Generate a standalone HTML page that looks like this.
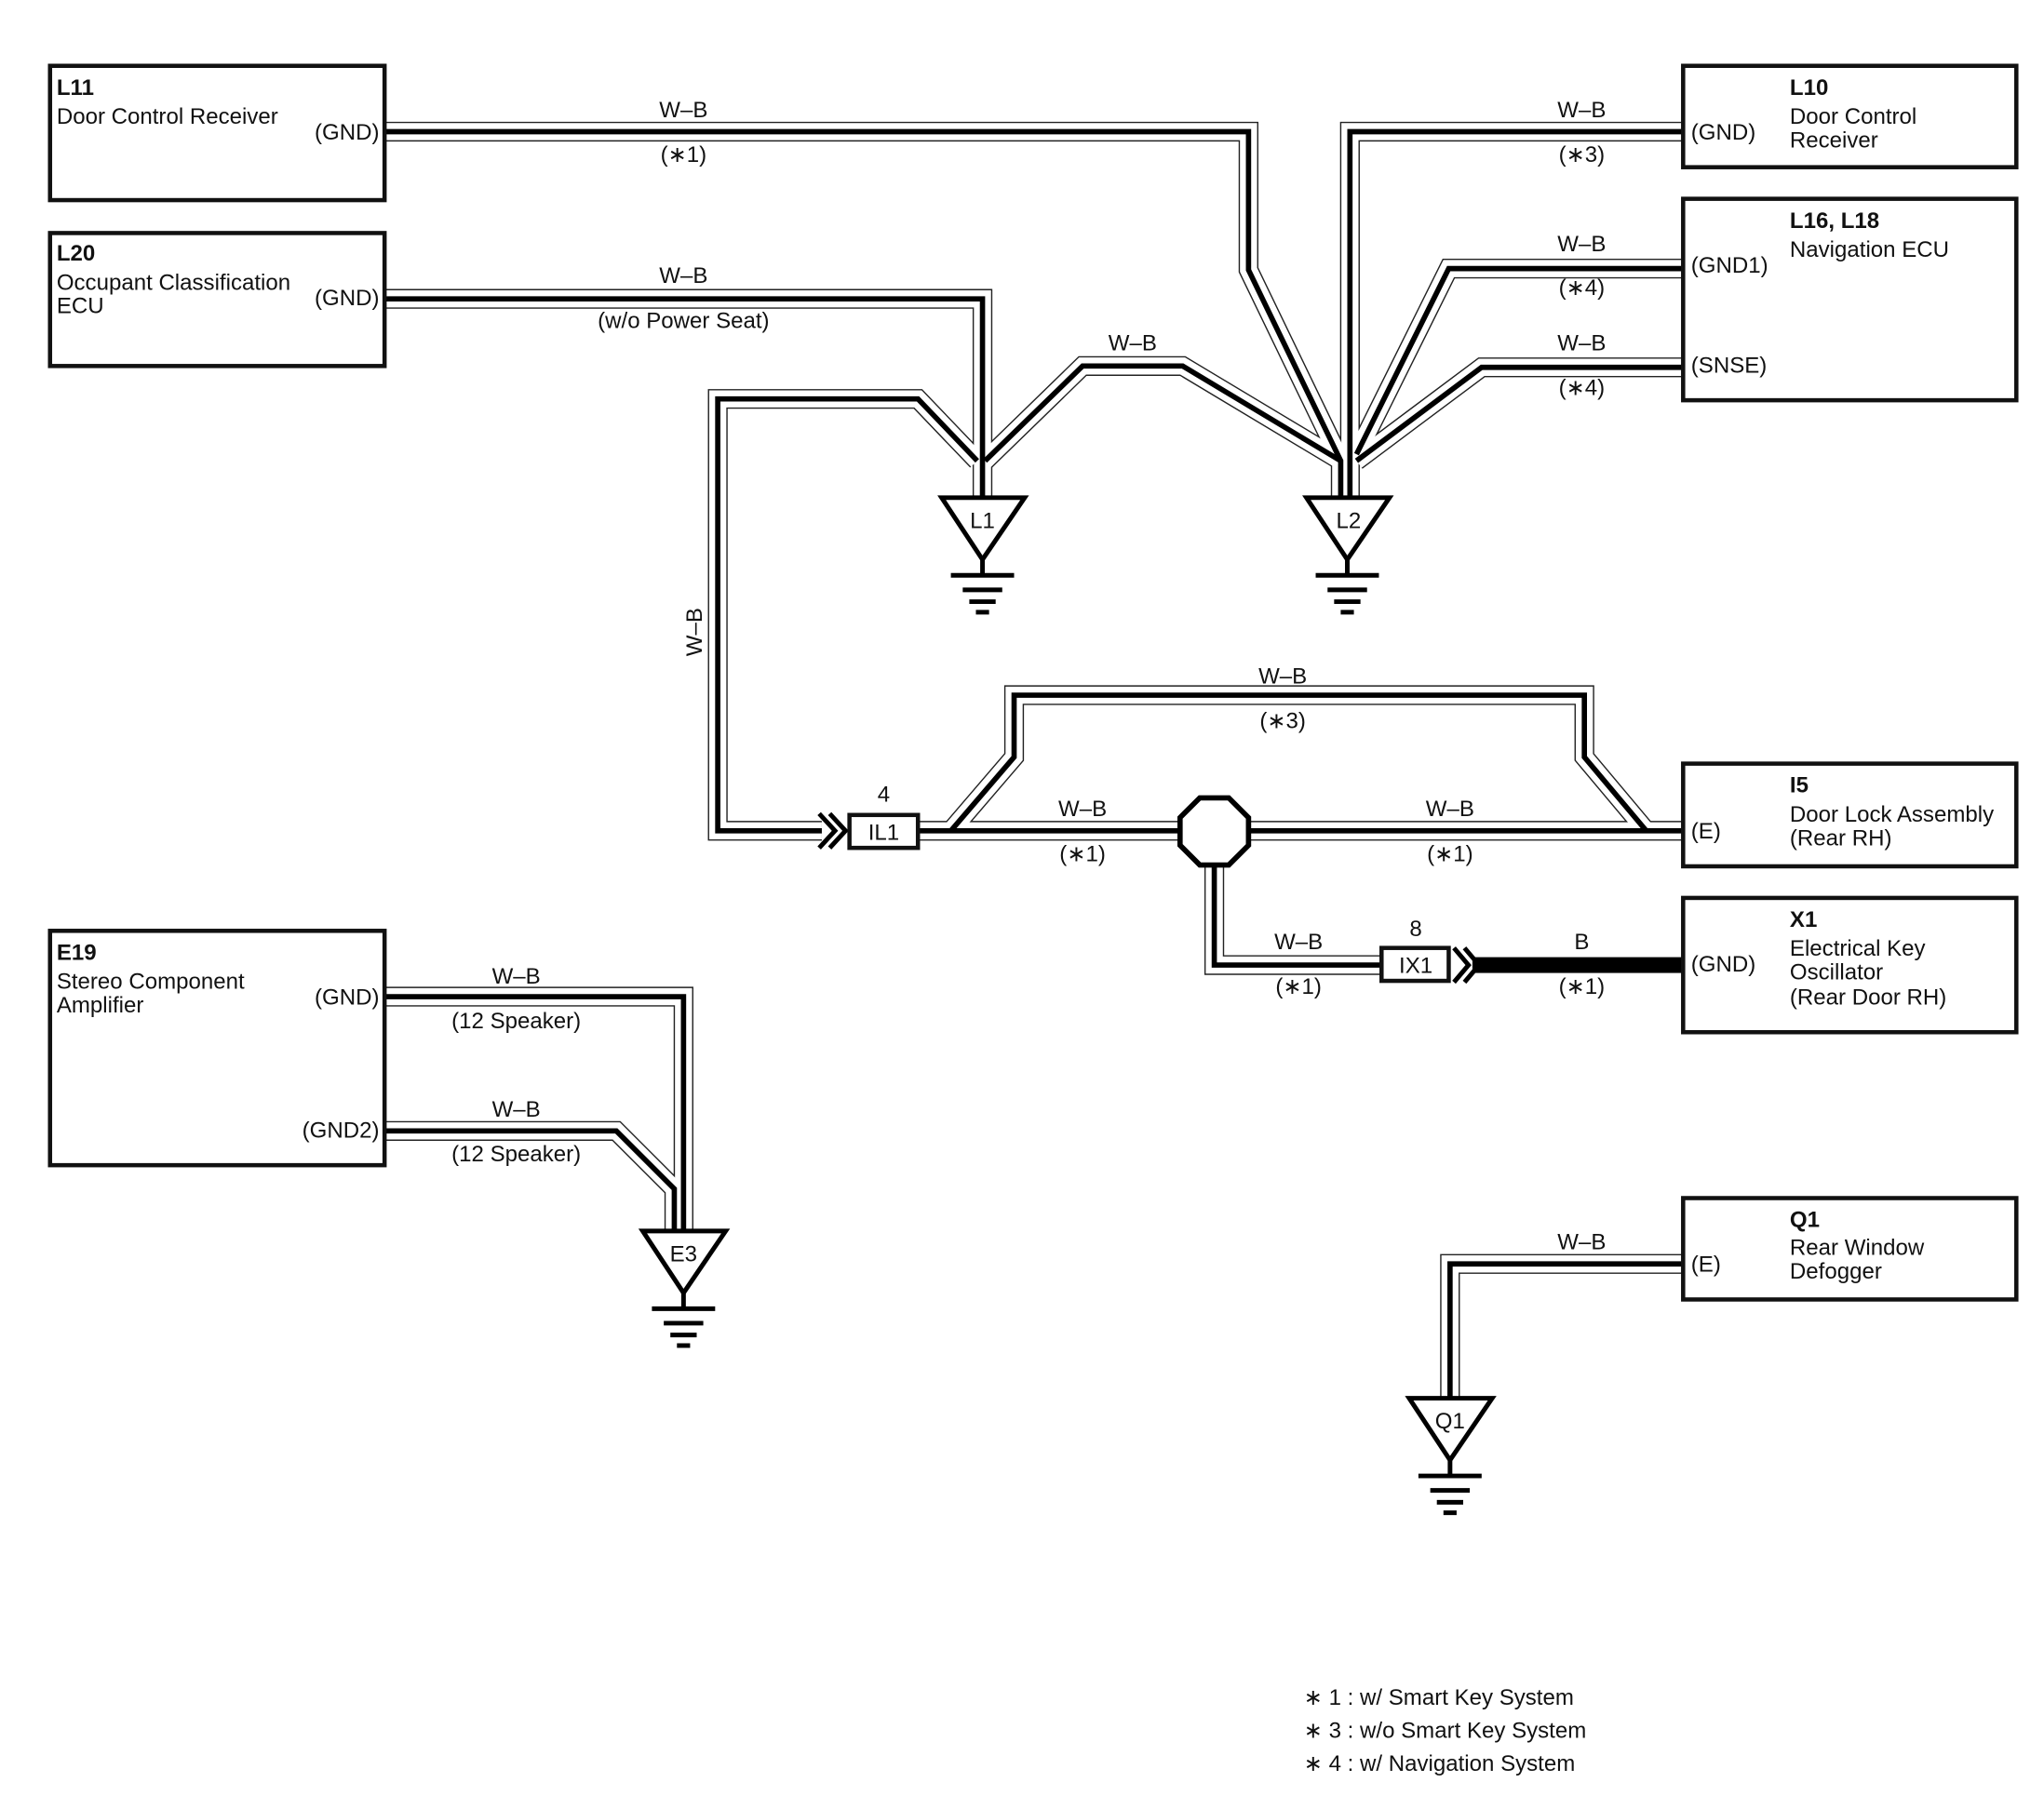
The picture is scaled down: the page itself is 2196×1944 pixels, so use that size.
<!DOCTYPE html>
<html><head><meta charset="utf-8"><style>
html,body{margin:0;padding:0;background:#fff;}
svg{display:block;}
text{font-family:"Liberation Sans",sans-serif;font-size:17px;fill:#111;}
.b{font-weight:bold;}
.m{text-anchor:middle;}
.e{text-anchor:end;}
.w1{fill:none;stroke:#222;stroke-width:15;stroke-linejoin:miter;}
.w2{fill:none;stroke:#fff;stroke-width:13;stroke-linejoin:miter;}
.w3{fill:none;stroke:#000;stroke-width:4;stroke-linejoin:miter;}
.box{fill:#fff;stroke:#111;stroke-width:3.2;}
.tri{fill:#fff;stroke:#000;stroke-width:3.5;stroke-linejoin:miter;}
.g{stroke:#000;stroke-width:3.5;}
</style></head><body>
<svg width="2196" height="1944" viewBox="0 0 1552 1374" preserveAspectRatio="none" xmlns="http://www.w3.org/2000/svg">
<defs>
<g id="wires">
<path d="M292,100 H948 V205 L1018,350 V378"/>
<path d="M1278,100 H1025 V378"/>
<path d="M1278,204 H1100 L1030,345"/>
<path d="M1278,279 H1125 L1030,350"/>
<path d="M748,350 L822,278 H898 L1018,350"/>
<path d="M292,227 H746 V378"/>
<path d="M742,350 L697,303 H545 V631 H624"/>
<path d="M697,631 H1278"/>
<path d="M722,631 L770,575 V528 H1203 V575 L1250,631"/>
<path d="M922,657 V733 H1049"/>
<path d="M292,757 H519 V935"/>
<path d="M292,859 H468 L512,903 V935"/>
<path d="M1278,960 H1101 V1062"/>
</g>
</defs>
<use href="#wires" class="w1"/>
<use href="#wires" class="w2"/>
<use href="#wires" class="w3"/>

<!-- thick B wire -->
<rect x="1118" y="727" width="160" height="12" fill="#000"/>
<path d="M1104,720 L1115,733 L1104,746 M1112,720 L1123,733 L1112,746" stroke="#000" stroke-width="3.5" fill="none"/>
<!-- IL1 arrows -->
<path d="M622,618 L634,631 L622,644 M630,618 L642,631 L630,644" stroke="#000" stroke-width="3.5" fill="none"/>

<!-- connectors -->
<rect x="645" y="619" width="52" height="25" class="box" stroke-width="3"/>
<text x="671" y="638" class="m">IL1</text>
<text x="671" y="609" class="m">4</text>
<rect x="1049" y="720" width="51" height="25" class="box" stroke-width="3"/>
<text x="1075" y="739" class="m">IX1</text>
<text x="1075" y="711" class="m">8</text>
<!-- splice -->
<polygon points="911,606 933,606 948,621 948,642 933,657 911,657 896,642 896,621" fill="#fff" stroke="#000" stroke-width="4"/>

<!-- boxes -->
<rect x="38" y="50" width="254" height="102" class="box"/>
<rect x="38" y="177" width="254" height="101" class="box"/>
<rect x="1278" y="50" width="253" height="77" class="box"/>
<rect x="1278" y="151" width="253" height="153" class="box"/>
<rect x="1278" y="580" width="253" height="78" class="box"/>
<rect x="1278" y="682" width="253" height="102" class="box"/>
<rect x="38" y="707" width="254" height="178" class="box"/>
<rect x="1278" y="910" width="253" height="77" class="box"/>

<!-- grounds -->
<g id="gnd1">
<polygon points="715,378 778,378 746,425" class="tri"/>
<line x1="746" y1="425" x2="746" y2="437" class="g"/>
<line x1="722" y1="437" x2="770" y2="437" class="g"/>
<line x1="731" y1="448" x2="761" y2="448" class="g"/>
<line x1="736" y1="457" x2="756" y2="457" class="g"/>
<line x1="741" y1="465" x2="751" y2="465" class="g"/>
</g>
<text x="746" y="401" class="m">L1</text>
<use href="#gnd1" transform="translate(277,0)"/>
<text x="1024" y="401" class="m">L2</text>
<use href="#gnd1" transform="translate(-227,557)"/>
<text x="519" y="958" class="m">E3</text>
<use href="#gnd1" transform="translate(355,684)"/>
<text x="1101" y="1085" class="m">Q1</text>

<!-- box texts -->
<text x="43" y="72" class="b">L11</text>
<text x="43" y="94">Door Control Receiver</text>
<text x="288" y="106" class="e">(GND)</text>
<text x="43" y="198" class="b">L20</text>
<text x="43" y="220">Occupant Classification</text>
<text x="43" y="238">ECU</text>
<text x="288" y="232" class="e">(GND)</text>
<text x="1359" y="72" class="b">L10</text>
<text x="1359" y="94">Door Control</text>
<text x="1359" y="112">Receiver</text>
<text x="1284" y="106">(GND)</text>
<text x="1359" y="173" class="b">L16, L18</text>
<text x="1359" y="195">Navigation ECU</text>
<text x="1284" y="207">(GND1)</text>
<text x="1284" y="283">(SNSE)</text>
<text x="1359" y="602" class="b">I5</text>
<text x="1359" y="624">Door Lock Assembly</text>
<text x="1359" y="642">(Rear RH)</text>
<text x="1284" y="637">(E)</text>
<text x="1359" y="704" class="b">X1</text>
<text x="1359" y="726">Electrical Key</text>
<text x="1359" y="744">Oscillator</text>
<text x="1359" y="763">(Rear Door RH)</text>
<text x="1284" y="738">(GND)</text>
<text x="43" y="729" class="b">E19</text>
<text x="43" y="751">Stereo Component</text>
<text x="43" y="769">Amplifier</text>
<text x="288" y="763" class="e">(GND)</text>
<text x="288" y="864" class="e">(GND2)</text>
<text x="1359" y="932" class="b">Q1</text>
<text x="1359" y="953">Rear Window</text>
<text x="1359" y="971">Defogger</text>
<text x="1284" y="966">(E)</text>

<!-- wire labels -->
<text x="519" y="89" class="m">W–B</text><text x="519" y="123" class="m">(∗1)</text>
<text x="519" y="215" class="m">W–B</text><text x="519" y="249" class="m">(w/o Power Seat)</text>
<text x="860" y="266" class="m">W–B</text>
<text x="1201" y="89" class="m">W–B</text><text x="1201" y="123" class="m">(∗3)</text>
<text x="1201" y="191" class="m">W–B</text><text x="1201" y="224" class="m">(∗4)</text>
<text x="1201" y="266" class="m">W–B</text><text x="1201" y="300" class="m">(∗4)</text>
<text x="974" y="519" class="m">W–B</text><text x="974" y="553" class="m">(∗3)</text>
<text x="822" y="620" class="m">W–B</text><text x="822" y="654" class="m">(∗1)</text>
<text x="1101" y="620" class="m">W–B</text><text x="1101" y="654" class="m">(∗1)</text>
<text x="986" y="721" class="m">W–B</text><text x="986" y="755" class="m">(∗1)</text>
<text x="1201" y="721" class="m">B</text><text x="1201" y="755" class="m">(∗1)</text>
<text x="392" y="747" class="m">W–B</text><text x="392" y="781" class="m">(12 Speaker)</text>
<text x="392" y="848" class="m">W–B</text><text x="392" y="882" class="m">(12 Speaker)</text>
<text x="1201" y="949" class="m">W–B</text>
<text x="533" y="480" class="m" transform="rotate(-90 533 480)">W–B</text>

<!-- footnotes -->
<text x="990" y="1295">∗ 1 : w/ Smart Key System</text>
<text x="990" y="1320">∗ 3 : w/o Smart Key System</text>
<text x="990" y="1345">∗ 4 : w/ Navigation System</text>
</svg>
</body></html>
